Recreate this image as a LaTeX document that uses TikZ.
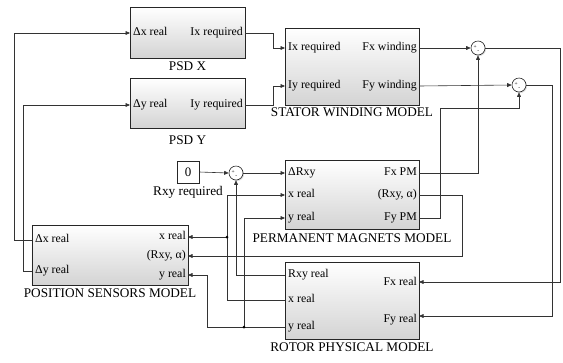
\documentclass[tikz,border=0pt]{standalone}
\usepackage{fontspec}
\setmainfont{Liberation Serif}
\usetikzlibrary{arrows.meta,shadows}
\begin{document}
\begin{tikzpicture}[x=1bp,y=-1bp,
  blk/.style={draw=black!85, line width=0.6bp, top color=white, bottom color=black!17,
    drop shadow={shadow xshift=1.3bp, shadow yshift=-1.3bp, opacity=0.35},
    inner sep=0pt, anchor=center},
  sumnode/.style={circle, draw=black!85, line width=0.6bp, fill=white, minimum size=14bp, inner sep=0pt,
    drop shadow={shadow xshift=1bp, shadow yshift=-1bp, opacity=0.3}},
  constbox/.style={draw=black!85, line width=0.6bp, fill=white, minimum width=22bp, minimum height=22bp, inner sep=0pt,
    font=\fontsize{13}{15}\selectfont},
  plbl/.style={inner sep=0pt, font=\fontsize{11.9}{13}\selectfont},
  tlbl/.style={inner sep=0pt, anchor=mid, font=\fontsize{13.3}{15}\selectfont},
  sgn/.style={inner sep=0pt, font=\fontsize{5.5}{6}\selectfont},
  conn/.style={draw=black!80, line width=0.6bp},
  arr/.style={conn, -{Triangle[length=4.5bp,width=3.8bp]}},
  jdot/.style={circle, fill=black, inner sep=0pt, minimum size=3bp}
]
\useasboundingbox (0,0) rectangle (563,362);

% ---------- blocks ----------
\node[blk, minimum width=115bp, minimum height=51bp] (psdx) at (187.5,32.5) {};
\node[blk, minimum width=115bp, minimum height=50bp] (psdy) at (187.5,103) {};
\node[blk, minimum width=134bp, minimum height=77bp] (stator) at (352,66.5) {};
\node[blk, minimum width=134bp, minimum height=69bp] (pm) at (352,194.5) {};
\node[blk, minimum width=156bp, minimum height=60bp] (pos) at (110,255) {};
\node[blk, minimum width=134bp, minimum height=77bp] (rotor) at (352,300.5) {};
\node[constbox] (const) at (188,172) {0};
\node[sumnode] (sumR) at (236,173) {};
\node[sumnode] (sumA) at (478,48) {};
\node[sumnode] (sumB) at (519,85) {};

% sum signs
\foreach \s in {sumR,sumA,sumB}{
  \node[sgn] (\s-p) at ([xshift=-2.8bp,yshift=1.2bp]\s.center) {+};
  \node[sgn] (\s-m) at ([xshift=0.3bp,yshift=-3.3bp]\s.center) {-};
}

% ---------- titles ----------
\node[tlbl] (tpsdx) at (187.5,68) {PSD X};
\node[tlbl] (tpsdy) at (187.5,142) {PSD Y};
\node[tlbl] (tstator) at (352,114) {STATOR WINDING MODEL};
\node[tlbl] (tpm) at (352,240) {PERMANENT MAGNETS MODEL};
\node[tlbl] (tpos) at (110,295) {POSITION SENSORS MODEL};
\node[tlbl] (trotor) at (352,349) {ROTOR PHYSICAL MODEL};
\node[tlbl] (tconst) at (188,193) {Rxy required};

% ---------- port labels ----------
\node[plbl, anchor=mid west] (l1) at (133,33) {Δx real};
\node[plbl, anchor=mid east] (l2) at (243,33) {Ix required};
\node[plbl, anchor=mid west] (l3) at (133,105) {Δy real};
\node[plbl, anchor=mid east] (l4) at (243,105) {Iy required};
\node[plbl, anchor=mid west] (l5) at (288,48) {Ix required};
\node[plbl, anchor=mid west] (l6) at (288,86) {Iy required};
\node[plbl, anchor=mid east] (l7) at (417,48) {Fx winding};
\node[plbl, anchor=mid east] (l8) at (417,86) {Fy winding};
\node[plbl, anchor=mid west] (l9) at (288,173) {ΔRxy};
\node[plbl, anchor=mid west] (l10) at (288,195) {x real};
\node[plbl, anchor=mid west] (l11) at (288,218) {y real};
\node[plbl, anchor=mid east] (l12) at (417,173) {Fx PM};
\node[plbl, anchor=mid east] (l13) at (417,195) {(Rxy, α)};
\node[plbl, anchor=mid east] (l14) at (417,218) {Fy PM};
\node[plbl, anchor=mid west] (l15) at (35,240) {Δx real};
\node[plbl, anchor=mid west] (l16) at (35,271) {Δy real};
\node[plbl, anchor=mid east] (l17) at (186,237) {x real};
\node[plbl, anchor=mid east] (l18) at (186,256) {(Rxy, α)};
\node[plbl, anchor=mid east] (l19) at (186,275) {y real};
\node[plbl, anchor=mid west] (l20) at (288,275) {Rxy real};
\node[plbl, anchor=mid west] (l21) at (288,300) {x real};
\node[plbl, anchor=mid west] (l22) at (288,327) {y real};
\node[plbl, anchor=mid east] (l23) at (417,283) {Fx real};
\node[plbl, anchor=mid east] (l24) at (417,320) {Fy real};

% ---------- port coordinates ----------
\coordinate (psdx-in) at (130,33);
\coordinate (psdx-out) at (245,33);
\coordinate (psdy-in) at (130,105);
\coordinate (psdy-out) at (245,105);
\coordinate (st-ix) at (285,48);
\coordinate (st-iy) at (285,86);
\coordinate (st-fx) at (419,48);
\coordinate (st-fy) at (419,86);
\coordinate (pm-dr) at (285,173);
\coordinate (pm-x) at (285,195);
\coordinate (pm-y) at (285,218);
\coordinate (pm-fx) at (419,173);
\coordinate (pm-ra) at (419,195);
\coordinate (pm-fy) at (419,218);
\coordinate (pos-dx) at (32,240);
\coordinate (pos-dy) at (32,271);
\coordinate (pos-x) at (188,237);
\coordinate (pos-ra) at (188,256);
\coordinate (pos-y) at (188,275);
\coordinate (ro-rxy) at (285,275);
\coordinate (ro-x) at (285,300);
\coordinate (ro-y) at (285,327);
\coordinate (ro-fx) at (419,282);
\coordinate (ro-fy) at (419,316);
\coordinate (jx) at (227,237);
\coordinate (jy) at (244,327);

% ---------- connectors ----------
\draw[arr] (pos-dx) -- (14,240) -- (14,33) -- (psdx-in);
\draw[arr] (pos-dy) -- (23,271) -- (23,105) -- (psdy-in);
\draw[arr] (psdx-out) -- (273,33) -- (273,48) -- (st-ix);
\draw[arr] (psdy-out) -- (273,105) -- (273,86) -- (st-iy);
\draw[arr] (st-fx) -- (sumA.west);
\draw[arr] (st-fy) -- (sumB.west);
\draw[arr] (sumA.east) -- (560,48) -- (560,282) -- (ro-fx);
\draw[arr] (sumB.east) -- (552,85) -- (552,316) -- (ro-fy);
\draw[arr] (pm-fx) -- (478,173) -- (sumA.south);
\draw[arr] (pm-fy) -- (440,218) -- (440,108) -- (519,108) -- (sumB.south);
\draw[arr] (pm-ra) -- (462,195) -- (462,256) -- (pos-ra);
\draw[arr] (const.east) -- (sumR.west);
\draw[arr] (sumR.east) -- (pm-dr);
\draw[arr] (ro-rxy) -- (236,275) -- (sumR.south);
\draw[arr] (ro-x) -- (227,300) -- (227,195) -- (pm-x);
\draw[arr] (jx) -- (pos-x);
\draw[arr] (ro-y) -- (207,327) -- (207,275) -- (pos-y);
\draw[arr] (jy) -- (244,218) -- (pm-y);
\node[jdot] (dx) at (jx) {};
\node[jdot] (dy) at (jy) {};
\end{tikzpicture}
\end{document}
